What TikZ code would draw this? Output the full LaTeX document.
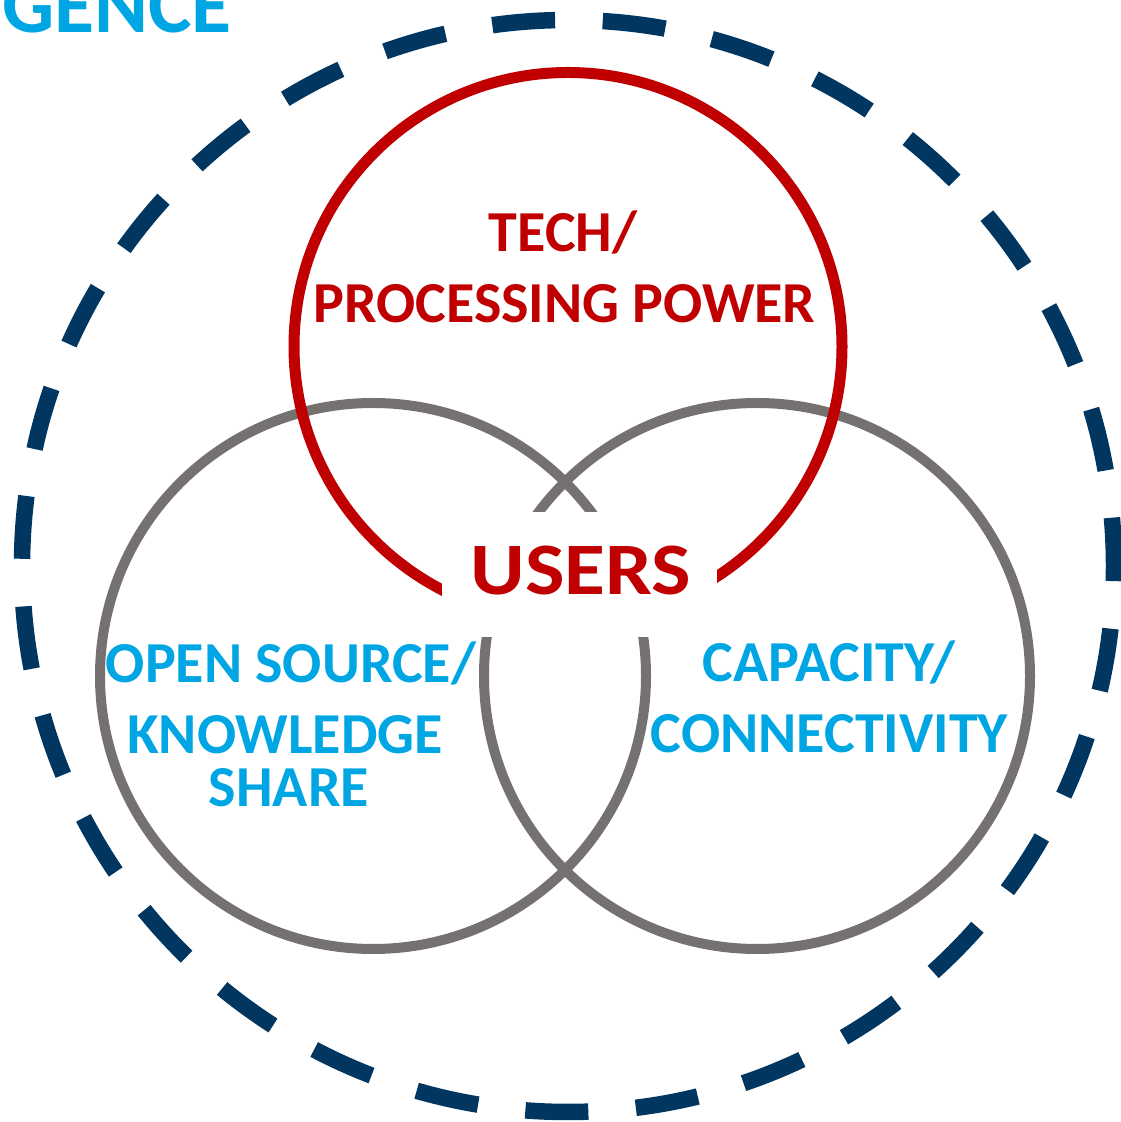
\documentclass[tikz,border=0pt]{standalone}
\usepackage{graphicx}
\usepackage{fontspec}
\setmainfont{Carlito}
\definecolor{ringred}{HTML}{C00000}
\definecolor{ringgray}{HTML}{767171}
\definecolor{txtcyan}{HTML}{00A6E3}
\definecolor{navy}{HTML}{00365F}
\begin{document}
\begin{tikzpicture}[x=1pt,y=1pt,
  redtxt/.style={inner sep=0pt, anchor=base, text=ringred, font=\bfseries\fontsize{58}{70}\selectfont},
  cyantxt/.style={inner sep=0pt, anchor=base, text=txtcyan, font=\bfseries\fontsize{58}{70}\selectfont},
  graycircle/.style={draw=ringgray, line width=10pt},
  redcircle/.style={draw=ringred, line width=11pt},
  dashring/.style={draw=navy, line width=16.5pt, dash pattern=on 63pt off 47.665pt, dash phase=14.63pt}
]
\useasboundingbox (0,0) rectangle (1121,1122);
% outer dashed ring
\coordinate (oc) at (568,556);
\draw[dashring] (oc) circle[radius=546];
% gray circles
\coordinate (lc) at (373,446);
\coordinate (rc) at (757,446);
\draw[graycircle] (lc) circle[radius=273];
\draw[graycircle] (rc) circle[radius=273];
% red circle
\coordinate (tc) at (568,775.5);
\draw[redcircle] (tc) circle[radius=274];
% white box behind USERS
\node[fill=white, inner sep=0pt, minimum width=275pt, minimum height=125pt] (userbox) at (579.5,547.5) {};
% texts
\node[redtxt, font=\bfseries\fontsize{74}{80}\selectfont] (users) at (581,527) {\scalebox{1.13}[1]{USERS}};
\node[redtxt] (tech) at (563,870) {TECH/};
\node[redtxt] (proc) at (564.5,799) {PROCESSING POWER};
\node[cyantxt] (open) at (291,439) {OPEN SOURCE/};
\node[cyantxt] (know) at (285,368) {KNOWLEDGE};
\node[cyantxt] (share) at (289,315) {SHARE};
\node[cyantxt] (cap) at (829,440) {CAPACITY/};
\node[cyantxt] (conn) at (829.5,369) {CONNECTIVITY};
\node[cyantxt, anchor=base east, font=\bfseries\fontsize{82}{90}\selectfont] (gence) at (232,1089) {GENCE};
\end{tikzpicture}
\end{document}
